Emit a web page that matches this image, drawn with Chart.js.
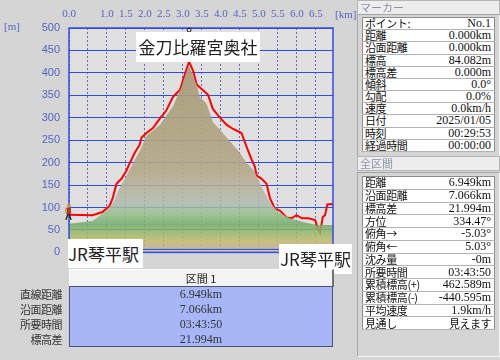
<!DOCTYPE html>
<html>
<head>
<meta charset="utf-8">
<script src="https://cdn.jsdelivr.net/npm/chart.js@4.4.1/dist/chart.umd.min.js"></script>
<style>
body{margin:0;width:500px;height:360px;background:#d5d5d5;position:relative;overflow:hidden;font-family:"Noto Sans CJK JP",sans-serif;}
#wrap{position:absolute;left:0;top:0;width:355px;height:268px;}
.lbl{position:absolute;background:#fff;color:#222;font:17px "Noto Sans CJK JP";text-align:center;white-space:nowrap;}
.unit{position:absolute;color:#5565c0;font:11px "Liberation Serif";}
.hdr{position:absolute;left:357px;width:139px;height:13px;background:#ededed;border:1px solid #b5b5b5;color:#8c92aa;font:11px "Noto Sans CJK JP";line-height:13px;padding-left:2px;}
.frame{position:absolute;left:357px;width:141px;border:1px solid #a5a5a5;border-right-color:#f4f4f4;border-bottom-color:#f4f4f4;}
table.info{position:absolute;left:362px;width:133px;border-collapse:collapse;background:#fff;border:1px solid #8c8c8c;table-layout:fixed;}
table.info td{padding:0 2px;border-bottom:1px solid #b2b2b2;font-size:11px;line-height:11px;white-space:nowrap;overflow:hidden;color:#111;}
table.info td.k{letter-spacing:-0.4px;}
table.info td.v{text-align:right;font-family:"Liberation Serif";font-size:12px;padding-right:3px;}
#sec{position:absolute;left:69px;top:269px;width:262px;height:16px;background:#f3f3f3;border:1px solid #fff;border-right:2px solid #707070;border-bottom:1px solid #707070;text-align:center;font:11px "Noto Sans CJK JP";line-height:16px;color:#222;}
#secbody{position:absolute;left:69px;top:286px;width:262px;height:59px;background:#a6b6f6;border:1px solid #4a5274;}
.row{position:absolute;height:15px;line-height:15px;font-size:12px;white-space:nowrap;}
.rk{left:0;width:62px;text-align:right;font:11px "Noto Sans CJK JP";line-height:15px;color:#333;letter-spacing:-0.5px;}
.rv{left:69px;width:264px;text-align:center;font:12px "Liberation Serif";line-height:15px;color:#333;}
</style>
</head>
<body>
<div id="wrap"><canvas id="myChart" width="355" height="268"></canvas></div>
<div class="unit" style="left:4px;top:20px;">[m]</div>
<div class="unit" style="left:335px;top:8px;">[km]</div>
<div class="lbl" style="left:136px;top:32px;width:124px;height:30px;line-height:30px;">金刀比羅宮奥社</div>
<div class="lbl" style="left:68px;top:239px;width:75px;height:29px;line-height:29px;text-align:left;">JR琴平駅</div>
<div class="lbl" style="left:279px;top:244px;width:72px;height:30px;line-height:30px;text-align:left;padding-left:1px;">JR琴平駅</div>

<div id="sec">区間 1</div>
<div id="secbody"></div>
<div id="secrows"></div>

<div class="hdr" style="top:0;">マーカー</div>
<div class="frame" style="top:14px;height:141px;"></div>
<table class="info" id="marker" style="top:17px;height:135px;"></table>
<div class="hdr" style="top:156px;">全区間</div>
<div class="frame" style="top:172px;height:183px;"></div>
<table class="info" id="total" style="top:176px;height:154px;"></table>

<script>
// 経路の標高 (km, m)
let trackKm   = [0.00,0.62,0.88,1.07,1.15,1.25,1.38,1.51,1.60,1.73,1.86,1.91,2.04,2.21,2.39,2.56,2.74,2.92,3.05,3.16,3.27,3.36,3.49,3.66,3.79,3.97,4.15,4.32,4.54,4.68,4.81,4.89,4.94,5.07,5.20,5.29,5.42,5.55,5.73,5.86,5.99,6.13,6.30,6.48,6.56,6.61,6.68,6.74,6.80,6.92,6.949];
let trackElev = [84,83,90,104,121,153,164,182,199,222,240,256,266,277,298,316,347,362,397,425,404,374,364,351,319,301,284,275,266,234,206,192,171,164,153,121,97,93,78,76,83,76,76,72,51,44,79,83,107,108,106];

// 断面 (直線)
let terrainKm   = [0.00,0.62,0.98,1.16,1.33,1.51,1.73,1.91,2.02,2.39,2.74,2.96,3.15,3.36,3.44,3.62,3.79,3.93,4.15,4.45,4.68,4.87,5.07,5.29,5.51,5.82,6.17,6.52,6.949];
let terrainElev = [64,70,93,111,143,171,206,234,258,284,326,369,418,374,347,332,290,277,256,227,199,182,146,111,90,76,68,61,61];

let xTickLabels = ['0.0','','1.0','1.5','2.0','2.5','3.0','3.5','4.0','4.5','5.0','5.5','6.0','6.5'];
let totalKm = 6.949;

let markerKeys = ['ポイント:','距離','沿面距離','標高','標高差','傾斜','勾配','速度','日付','時刻','経過時間'];
let markerVals = ['No.1','0.000km','0.000km','84.082m','0.000m','0.0°','0.0%','0.0km/h','2025/01/05','00:29:53','00:00:00'];
let totalKeys = ['距離','沿面距離','標高差','方位','俯角→','俯角←','沈み量','所要時間','累積標高(+)','累積標高(-)','平均速度','見通し'];
let totalVals = ['6.949km','7.066km','21.994m','334.47°','-5.03°','5.03°','-0m','03:43:50','462.589m','-440.595m','1.9km/h','見えます'];
let secKeys = ['直線距離','沿面距離','所要時間','標高差'];
let secVals = ['6.949km','7.066km','03:43:50','21.994m'];

function fillTable(id, keys, vals){
  let t = document.getElementById(id);
  let h = '';
  for(let i=0;i<keys.length;i++){
    let vcls = /[ぁ-ん]/.test(vals[i]) ? 'v" style="font-family:Noto Sans CJK JP;font-size:11px;letter-spacing:-0.5px' : 'v';
    h += '<tr><td class="k">'+keys[i]+'</td><td class="'+vcls+'">'+vals[i]+'</td></tr>';
  }
  t.innerHTML = h;
}
fillTable('marker', markerKeys, markerVals);
fillTable('total', totalKeys, totalVals);

let sr = '';
for(let i=0;i<secKeys.length;i++){
  let top = 287 + i*15;
  sr += '<div class="row rk" style="top:'+top+'px">'+secKeys[i]+'</div>';
  sr += '<div class="row rv" style="top:'+top+'px">'+secVals[i]+'</div>';
}
document.getElementById('secrows').innerHTML = sr;

let terrainStops = [[0,'rgba(200,196,186,0.85)'],[8,'rgba(186,178,150,0.85)'],[25,'rgba(196,186,110,0.85)'],[45,'rgba(150,184,105,0.85)'],[62,'rgba(112,172,104,0.85)'],[85,'rgba(148,190,136,0.85)'],[110,'rgba(176,188,174,0.85)'],[140,'rgba(180,178,156,0.85)'],[185,'rgba(178,166,132,0.88)'],[300,'rgba(172,160,124,0.9)'],[430,'rgba(166,152,116,0.9)']];

function terrainFill(ctx){
  let chart = ctx.chart;
  if(!chart.chartArea) return 'rgba(180,170,130,0.85)';
  let y = chart.scales.y;
  let y0 = y.getPixelForValue(0), y1 = y.getPixelForValue(430);
  let g = chart.ctx.createLinearGradient(0, y0, 0, y1);
  terrainStops.forEach(s => g.addColorStop(s[0]/430, s[1]));
  return g;
}

let plotBg = {
  id:'plotBg',
  beforeDraw(chart){
    let a = chart.chartArea, c = chart.ctx;
    c.save();
    c.fillStyle = '#e0e0e0';
    c.fillRect(a.left, a.top, a.right-a.left, a.bottom-a.top);
    c.restore();
  },
  afterDatasetsDraw(chart){
    let a = chart.chartArea, c = chart.ctx;
    c.save();
    c.strokeStyle = '#2f4ce6';
    c.lineWidth = 1.5;
    c.strokeRect(a.left, a.top, a.right-a.left, a.bottom-a.top);
    c.beginPath();
    c.moveTo(a.left, a.bottom-3); c.lineTo(a.right, a.bottom-3);
    c.lineWidth = 1; c.stroke();
    // 人のアイコン (始点)
    let p = chart.getDatasetMeta(1).data[0];
    let x = p.x, yy = p.y;
    c.fillStyle = '#c89050';
    c.beginPath(); c.arc(x, yy-9, 2, 0, Math.PI*2); c.fill();
    c.fillStyle = '#b83828';
    c.fillRect(x-3, yy-7, 5, 6);
    c.fillStyle = '#d0a040';
    c.fillRect(x-4, yy-6, 2, 4);
    c.strokeStyle = '#302820'; c.lineWidth = 1.5;
    c.beginPath(); c.moveTo(x-1, yy-1); c.lineTo(x-3, yy+5); c.moveTo(x, yy-1); c.lineTo(x+2, yy+5); c.stroke();
    // 山頂のアイコン
    let pk = trackElev.indexOf(Math.max(...trackElev));
    let px = chart.scales.x.getPixelForValue(trackKm[pk]);
    c.strokeStyle = '#202020'; c.lineWidth = 1;
    c.beginPath(); c.arc(px, a.top+2, 2, 0, Math.PI*2); c.stroke();
    c.beginPath(); c.moveTo(px-3, a.top+5); c.lineTo(px+3, a.top+5); c.stroke();
    c.restore();
  }
};

let ctx = document.getElementById('myChart').getContext('2d');
let chart = new Chart(ctx, {
  type: 'line',
  data: {
    datasets: [{
      label: '断面',
      data: terrainKm.map((k,i) => ({x:k, y:terrainElev[i]})),
      fill: 'origin',
      backgroundColor: terrainFill,
      borderWidth: 0,
      pointRadius: 0,
      tension: 0
    },{
      label: '標高',
      data: trackKm.map((k,i) => ({x:k, y:trackElev[i]})),
      fill: false,
      borderColor: '#ff0000',
      borderWidth: 2,
      pointRadius: 0,
      tension: 0
    }]
  },
  options: {
    responsive: false,
    animation: false,
    devicePixelRatio: 1,
    layout: { padding: { left: 0, right: 22, top: 0, bottom: 4 } },
    plugins: { legend: { display: false }, tooltip: { enabled: false } },
    scales: {
      x: {
        type: 'linear',
        position: 'top',
        min: 0,
        max: totalKm,
        afterFit: s => { s.height = 28; },
        ticks: {
          stepSize: 0.5,
          includeBounds: false,
          autoSkip: false,
          maxRotation: 0,
          padding: 7,
          color: '#5565c0',
          font: { family: 'Liberation Serif', size: 11 },
          callback: v => {
            let i = Math.round(v/0.5);
            if(Math.abs(v - i*0.5) > 1e-6) return '';
            return xTickLabels[i] || '';
          }
        },
        grid: { color: '#5c6cd0', lineWidth: 1, drawTicks: false },
        border: { display: false, dash: [2,2] }
      },
      y: {
        min: 0,
        max: 500,
        afterFit: s => { s.width = 69; },
        ticks: {
          stepSize: 50,
          padding: 9,
          color: '#5565c0',
          font: { family: 'Liberation Sans', size: 11 }
        },
        grid: { color: '#2f4ce6', lineWidth: 1, drawTicks: false },
        border: { display: false }
      }
    }
  },
  plugins: [plotBg]
});
</script>
</body>
</html>
